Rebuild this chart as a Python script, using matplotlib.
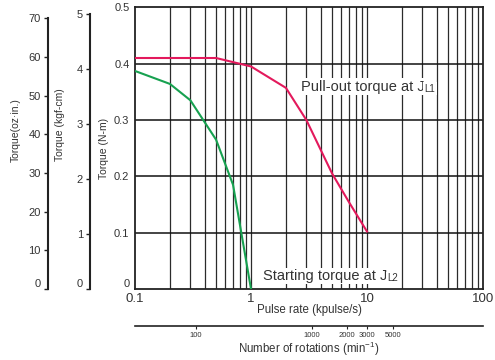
import numpy as np
import matplotlib.pyplot as plt

plt.rcParams['font.family'] = ['Liberation Sans', 'DejaVu Sans']

# data
pullout_x = [0.1, 0.5, 1.0, 2.0, 3.0, 5.0, 7.0, 10.0]
pullout_y = [0.41, 0.41, 0.395, 0.357, 0.30, 0.205, 0.154, 0.102]
start_x = [0.1, 0.2, 0.3, 0.5, 0.7, 1.0]
start_y = [0.387, 0.364, 0.335, 0.265, 0.185, 0.0]

nm_ticks = [0, 0.1, 0.2, 0.3, 0.4, 0.5]
kgf_ticks = [0, 1, 2, 3, 4, 5]
oz_ticks = [0, 10, 20, 30, 40, 50, 60, 70]
rpm_ticks = [100, 1000, 2000, 3000, 5000]
pulse_ticks = [0.1, 1, 10, 100]

txt = '#333333'
red = '#e3195c'
green = '#17a150'

W, H = 495, 360
fig = plt.figure(figsize=(W / 100, H / 100), dpi=100)

# pixel box of main plot
x0, x1 = 135, 483
y0, y1 = 289, 7.3
left = x0 / W
bottom = 1 - y0 / H
width = (x1 - x0) / W
height = (y0 - y1) / H

ax = fig.add_axes([left, bottom, width, height])
ax.set_xscale('log')
ax.set_xlim(0.1, 100)
ax.set_ylim(0, 0.5)

# grid
for dec in [0.1, 1, 10]:
    for m in range(2, 10):
        ax.axvline(dec * m, color='#2b2b2b', lw=0.9, zorder=1)
for v in [1, 10]:
    ax.axvline(v, color='#2b2b2b', lw=0.9, zorder=1)
for yv in nm_ticks[1:-1]:
    ax.axhline(yv, color='#111111', lw=1.1, zorder=1)

ax.plot(pullout_x, pullout_y, color=red, lw=1.5, zorder=3)
ax.plot(start_x, start_y, color=green, lw=1.5, zorder=3)

for s in ax.spines.values():
    s.set_linewidth(1.3)
    s.set_color('#222222')

ax.set_yticks(nm_ticks)
ax.set_yticklabels(['0', '0.1', '0.2', '0.3', '0.4', '0.5'])
ax.set_xticks(pulse_ticks)
ax.set_xticklabels(['0.1', '1', '10', '100'])
ax.minorticks_off()
ax.tick_params(axis='y', length=0, pad=4, labelsize=8, labelcolor=txt)
ax.tick_params(axis='x', length=0, pad=3, labelsize=9.5, labelcolor=txt)
ax.yaxis.get_major_ticks()[0].label1.set_va('bottom')

# curve labels
t1 = ax.text(2.7, 0.352, 'Pull-out torque at J', fontsize=10.5, color=txt,
             va='baseline', ha='left', zorder=4,
             bbox=dict(fc='white', ec='none', pad=1))
ax.annotate('L1', xy=(1, 0), xycoords=t1, fontsize=7, color=txt,
            va='bottom', ha='left', zorder=4,
            bbox=dict(fc='white', ec='none', pad=1))
t2 = ax.text(1.26, 0.016, 'Starting torque at J', fontsize=10.5, color=txt,
             va='baseline', ha='left', zorder=4,
             bbox=dict(fc='white', ec='none', pad=1))
ax.annotate('L2', xy=(1, 0), xycoords=t2, fontsize=7, color=txt,
            va='bottom', ha='left', zorder=4,
            bbox=dict(fc='white', ec='none', pad=1))

# extra left torque scales
def side_axis(xpix, ymax, ticks, labels):
    a = fig.add_axes([xpix / W, bottom, 0.0001, height])
    a.set_ylim(0, ymax)
    a.patch.set_visible(False)
    for k in ['top', 'right', 'bottom']:
        a.spines[k].set_visible(False)
    a.spines['left'].set_linewidth(1.5)
    a.spines['left'].set_color('#222222')
    a.spines['left'].set_bounds(ticks[0], ticks[-1])
    a.set_xticks([])
    a.set_yticks(ticks)
    a.set_yticklabels(labels)
    a.tick_params(axis='y', length=3, width=1, pad=2, labelsize=8,
                  labelcolor=txt, color='#222222')
    a.yaxis.get_major_ticks()[0].label1.set_va('bottom')
    return a

side_axis(47.5, 72.8, oz_ticks, [str(v) for v in oz_ticks])
side_axis(90, 5.12, kgf_ticks, [str(v) for v in kgf_ticks])

fig.text(16 / W, 1 - 130 / H, 'Torque(oz·in.)', rotation=90, fontsize=7.5,
         color=txt, ha='center', va='center')
fig.text(60 / W, 1 - 125 / H, 'Torque (kgf-cm)', rotation=90, fontsize=7.5,
         color=txt, ha='center', va='center')
fig.text(104 / W, 1 - 148 / H, 'Torque (N-m)', rotation=90, fontsize=7.5,
         color=txt, ha='center', va='center')

fig.text(309 / W, 1 - 309.5 / H, 'Pulse rate (kpulse/s)', fontsize=8.3,
         color=txt, ha='center', va='center')

# rotation speed axis (1.8 deg step: rpm = kpps * 300)
ar = fig.add_axes([left, 1 - 325.7 / H, width, 0.0001])
ar.set_xscale('log')
ar.set_xlim(0.1 * 300, 100 * 300)
ar.patch.set_visible(False)
for k in ['top', 'right', 'left']:
    ar.spines[k].set_visible(False)
ar.spines['bottom'].set_linewidth(1.2)
ar.spines['bottom'].set_color('#222222')
ar.set_yticks([])
ar.set_xticks(rpm_ticks)
ar.set_xticklabels([str(v) for v in rpm_ticks])
ar.minorticks_off()
ar.tick_params(axis='x', length=2, width=0.8, pad=2.5, labelsize=5.5,
               labelcolor=txt, color='#222222')

fig.text(309 / W, 1 - 349 / H, r'Number of rotations (min$^{\mathregular{-1}}$)',
         fontsize=8.3, color=txt, ha='center', va='center')

fig.savefig('out.png', dpi=100)
